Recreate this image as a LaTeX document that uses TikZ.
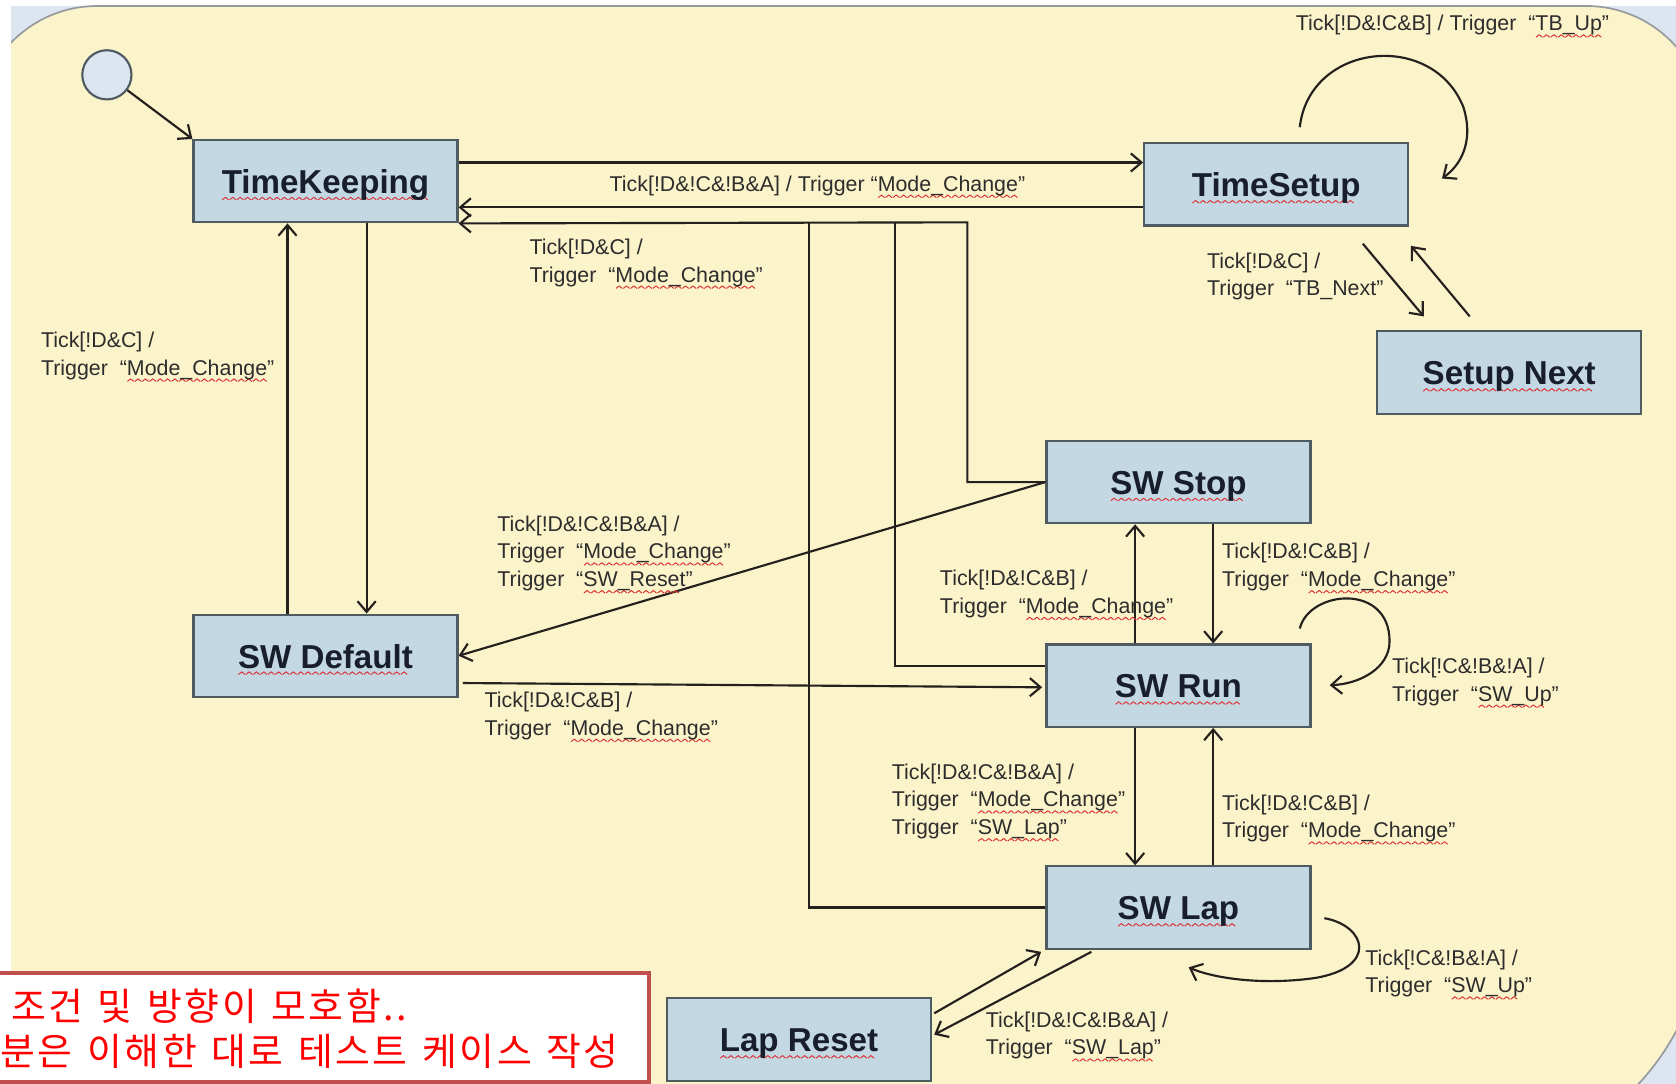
\documentclass[tikz,border=0pt]{standalone}
\usepackage{fontspec}
\setmainfont{Liberation Sans}
\newfontfamily\kofont[LetterSpace=7,WordSpace=1.3]{Noto Sans CJK KR}
\usetikzlibrary{arrows.meta,calc}
\definecolor{bgyellow}{RGB}{251,243,202}
\definecolor{outblue}{RGB}{221,230,240}
\definecolor{edgegray}{RGB}{150,155,160}
\definecolor{boxfill}{RGB}{196,216,228}
\definecolor{boxdraw}{RGB}{78,92,98}
\definecolor{linec}{RGB}{35,32,30}
\definecolor{lbltext}{RGB}{45,45,45}
\definecolor{titletext}{RGB}{25,30,45}
\definecolor{squig}{RGB}{220,50,50}
\definecolor{redbox}{RGB}{192,80,77}
\definecolor{kored}{RGB}{255,0,0}
\newsavebox\wavebox
\newsavebox\rwbox
\newcommand\rw[1]{\sbox\rwbox{#1}\leavevmode\rlap{\raisebox{-3.2pt}[0pt][0pt]{\hbox to\wd\rwbox{\leaders\copy\wavebox\hfill}}}\usebox\rwbox}
\tikzset{
  state/.style={draw=boxdraw, line width=1pt, fill=boxfill, minimum width=123.5pt, minimum height=38.5pt, inner sep=0pt, text height=14.8pt, text depth=3.3pt, text=titletext, font=\fontsize{15.5}{18}\selectfont\bfseries},
  lbl/.style={anchor=north west, align=left, inner sep=0pt, text=lbltext, font=\fontsize{10}{13}\selectfont},
  conn/.style={draw=linec, line width=1pt},
  arr/.style={conn, -{Straight Barb[length=5pt, width=8.5pt, line width=1pt]}},
  kotext/.style={anchor=base west, inner sep=0pt, text=kored, font=\kofont\fontsize{17.7}{21}\selectfont},
}
\begin{document}
\sbox\wavebox{\begin{pgfpicture}%
\pgfpathmoveto{\pgfpoint{0pt}{0pt}}%
\pgfpathlineto{\pgfpoint{1.5pt}{1.2pt}}%
\pgfpathlineto{\pgfpoint{3pt}{0pt}}%
\pgfsetstrokecolor{squig}\pgfsetlinewidth{0.45pt}\pgfsetroundjoin
\pgfusepath{stroke}%
\end{pgfpicture}}%
\begin{tikzpicture}[x=0.5pt, y=-0.5pt]
\useasboundingbox (0,0) rectangle (1568,1014);
\clip (0,0) rectangle (1568,1014);
% background
\fill[white] (0,0) rectangle (1568,1014);
\fill[outblue] (10,5.6) rectangle (1568,1014);
\path[fill=bgyellow, draw=edgegray, line width=0.8pt]
  (-21,1100) -- (-21,117.6) .. controls (-21,55.7) and (29.1,5.6) .. (91,5.6)
  -- (1484,5.6) .. controls (1545.9,5.6) and (1596,55.7) .. (1596,117.6)
  -- (1596,853.5) .. controls (1596,983.8) and (1490.3,1089.5) .. (1360,1089.5)
  -- (1360,1100) -- cycle;
\fill[white] (0,0) rectangle (10,1014);
\fill[white] (0,0) rectangle (1568,5);

% states
\node[circle, draw=boxdraw, line width=1pt, fill=outblue, minimum size=23pt, inner sep=0pt] (init) at (100,70) {};
\node[state] (TK) at (304.5,169.5) {\rw{TimeKeeping}};
\node[state] (TS) at (1194,172.5) {\rw{TimeSetup}};
\node[state] (SN) at (1412,348.5) {\rw{Setup Next}};
\node[state] (SS) at (1102.5,451) {\rw{SW Stop}};
\node[state] (SD) at (304.5,613.5) {\rw{SW Default}};
\node[state] (SR) at (1102.5,641.5) {\rw{SW Run}};
\node[state] (SL) at (1102.5,849) {\rw{SW Lap}};
\node[state] (LR) at (747.5,972.5) {\rw{Lap Reset}};

% connectors
\draw[arr] (init) -- (TK.north west);
\draw[arr] (TK.east |- 0,152) -- (TS.west |- 0,152);
\draw[arr] (TS.west |- 0,194) -- (TK.east |- 0,194);
\draw[arr] (SS.west) -| (905,208) -- (TK.south east);
\draw[conn] (SR.west |- 0,623) -| (837,208);
\draw[conn] (SL.west) -| (757,208);
\draw[arr] (SD.north -| 269,0) -- (TK.south -| 269,0);
\draw[arr] (TK.south -| 343,0) -- (SD.north -| 343,0);
\draw[arr] ($(TS.north)+(22,-14)$) .. controls (1225,40) and (1340,28) .. (1369,100)
  .. controls (1378,128) and (1370,152) .. (1349,167);
\draw[arr] ($(TS.south)+(81,16)$) -- ($(SN.north)+(-80,-13)$);
\draw[arr] ($(SN.north)+(-37,-13)$) -- ($(TS.south)+(126,18)$);
\draw[arr] (SS.west) -- (SD.east);
\draw[arr] ($(SD.east)+(4,25.5)$) -- ($(SR.west)+(-3,1.5)$);
\draw[arr] (SR.north -| 1062,0) -- (SS.south -| 1062,0);
\draw[arr] (SS.south -| 1135,0) -- (SR.north -| 1135,0);
\draw[arr] ($(SR.north east)+(-11,-14)$) .. controls (1225,552) and (1300,545) .. (1300,600)
  .. controls (1300,625) and (1272,640) .. (1244,641);
\draw[arr] (SR.south -| 1062,0) -- (SL.north -| 1062,0);
\draw[arr] (SL.north -| 1135,0) -- (SR.south -| 1135,0);
\draw[arr] ($(SL.east)+(12,10)$) .. controls (1278,866) and (1290,905) .. (1230,915)
  .. controls (1180,922) and (1135,915) .. (1112,905);
\draw[arr] ($(LR.east)+(2,-24.5)$) -- ($(SL.south west)+(-4,2)$);
\draw[arr] ($(SL.south west)+(43,2)$) -- ($(LR.east)+(2,-4.5)$);

% labels
\node[lbl] (l1) at (570,164) {Tick[!D\&!C\&!B\&A] / Trigger “\rw{Mode\_Change}”};
\node[lbl] (l2) at (495,223) {Tick[!D\&C] /\\Trigger\ \ “\rw{Mode\_Change}”};
\node[lbl] (l3) at (38,310) {Tick[!D\&C] /\\Trigger\ \ “\rw{Mode\_Change}”};
\node[lbl] (l4) at (1212,14) {Tick[!D\&!C\&B] / Trigger\ \ “\rw{TB\_Up}”};
\node[lbl] (l5) at (1129,236) {Tick[!D\&C] /\\Trigger\ \ “TB\_Next”};
\node[lbl] (l6) at (465,482) {Tick[!D\&!C\&!B\&A] /\\Trigger\ \ “\rw{Mode\_Change}”\\Trigger\ \ “\rw{SW\_Reset}”};
\node[lbl] (l7) at (453,647) {Tick[!D\&!C\&B] /\\Trigger\ \ “\rw{Mode\_Change}”};
\node[lbl] (l8) at (879,533) {Tick[!D\&!C\&B] /\\Trigger\ \ “\rw{Mode\_Change}”};
\node[lbl] (l9) at (1143,508) {Tick[!D\&!C\&B] /\\Trigger\ \ “\rw{Mode\_Change}”};
\node[lbl] (l10) at (1302,615) {Tick[!C\&!B\&!A] /\\Trigger\ \ “\rw{SW\_Up}”};
\node[lbl] (l11) at (834,714) {Tick[!D\&!C\&!B\&A] /\\Trigger\ \ “\rw{Mode\_Change}”\\Trigger\ \ “\rw{SW\_Lap}”};
\node[lbl] (l12) at (1143,743) {Tick[!D\&!C\&B] /\\Trigger\ \ “\rw{Mode\_Change}”};
\node[lbl] (l13) at (1277,888) {Tick[!C\&!B\&!A] /\\Trigger\ \ “\rw{SW\_Up}”};
\node[lbl] (l14) at (922,946) {Tick[!D\&!C\&!B\&A] /\\Trigger\ \ “\rw{SW\_Lap}”};

% comment box
\draw[redbox, line width=2pt, fill=white] (-10,910) rectangle (607,1012);
\node[kotext] (k1) at (10,955) {조건 및 방향이 모호함..};
\node[kotext] (k2) at (0,997) {분은 이해한 대로 테스트 케이스 작성};
\end{tikzpicture}
\end{document}
